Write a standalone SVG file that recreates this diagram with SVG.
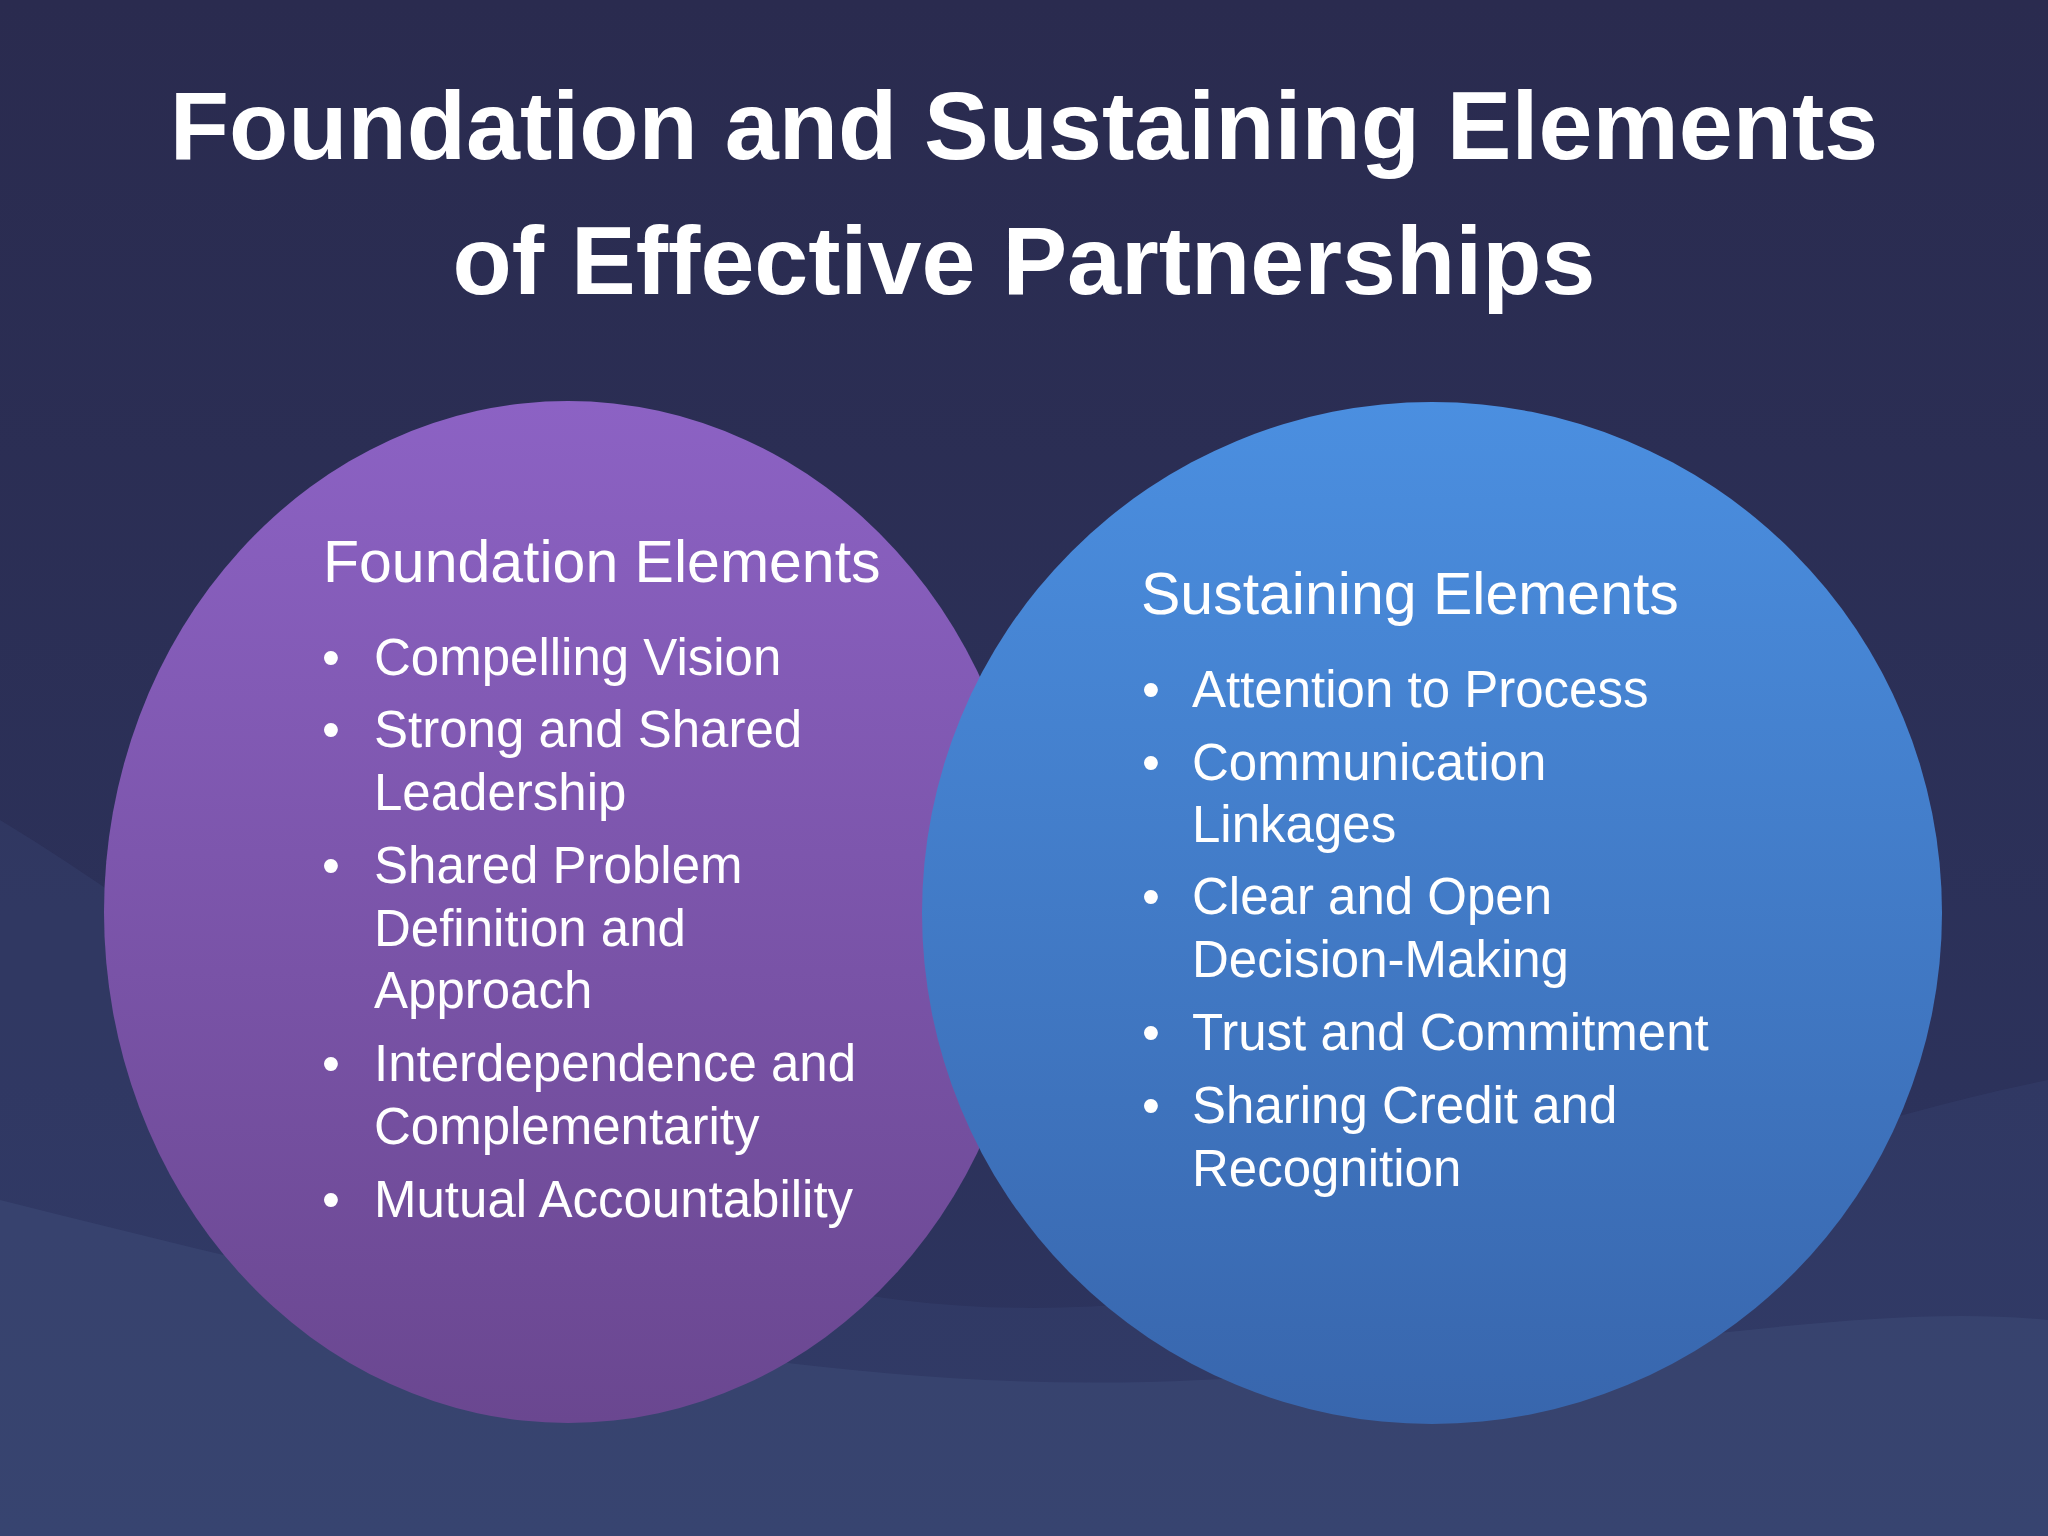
<svg xmlns="http://www.w3.org/2000/svg" width="2048" height="1536" viewBox="0 0 2048 1536">
<defs>
<linearGradient id="bg" x1="0" y1="0" x2="0" y2="1"><stop offset="0" stop-color="#2a2b4f"/><stop offset="1" stop-color="#2d3560"/></linearGradient>
<linearGradient id="pu" x1="0" y1="0" x2="0" y2="1"><stop offset="0" stop-color="#8c62c4"/><stop offset="1" stop-color="#6a4790"/></linearGradient>
<linearGradient id="bl" x1="0" y1="0" x2="0" y2="1"><stop offset="0" stop-color="#4b8fe0"/><stop offset="1" stop-color="#3866ad"/></linearGradient>
<style>
.t{font-family:"Liberation Sans",Arial,sans-serif;fill:#fff}
.h{font-size:59px}
.b{font-size:51px}
.ti{font-size:97px;font-weight:bold}
</style>
</defs>
<rect width="2048" height="1536" fill="url(#bg)"/>
<path d="M0 820 C300 1000 500 1250 900 1300 C1300 1350 1700 1150 2048 1080 L2048 1536 L0 1536Z" fill="#3a4a78" opacity="0.3"/>
<path d="M0 1200 C400 1300 800 1400 1200 1380 C1600 1360 1850 1300 2048 1320 L2048 1536 L0 1536Z" fill="#4a5e8c" opacity="0.25"/>
<text class="t ti" x="1024" y="159" text-anchor="middle">Foundation and Sustaining Elements</text>
<text class="t ti" x="1024" y="294" text-anchor="middle">of Effective Partnerships</text>
<g id="foundation">
<ellipse cx="568" cy="912" rx="464" ry="511" fill="url(#pu)"/>
<text class="t h" x="323" y="582">Foundation Elements</text>
<g class="t b">
<text x="322" y="675">•</text><text x="374" y="675">Compelling Vision</text>
<text x="322" y="747">•</text><text x="374" y="747">Strong and Shared</text>
<text x="374" y="810">Leadership</text>
<text x="322" y="883">•</text><text x="374" y="883">Shared Problem</text>
<text x="374" y="946">Definition and</text>
<text x="374" y="1008">Approach</text>
<text x="322" y="1081">•</text><text x="374" y="1081">Interdependence and</text>
<text x="374" y="1144">Complementarity</text>
<text x="322" y="1217">•</text><text x="374" y="1217">Mutual Accountability</text>
</g>
</g>
<g id="sustaining">
<ellipse cx="1432" cy="913" rx="510" ry="511" fill="url(#bl)"/>
<text class="t h" x="1141" y="614">Sustaining Elements</text>
<g class="t b">
<text x="1142" y="707">•</text><text x="1192" y="707">Attention to Process</text>
<text x="1142" y="780">•</text><text x="1192" y="780">Communication</text>
<text x="1192" y="842">Linkages</text>
<text x="1142" y="914">•</text><text x="1192" y="914">Clear and Open</text>
<text x="1192" y="977">Decision-Making</text>
<text x="1142" y="1050">•</text><text x="1192" y="1050">Trust and Commitment</text>
<text x="1142" y="1123">•</text><text x="1192" y="1123">Sharing Credit and</text>
<text x="1192" y="1186">Recognition</text>
</g>
</g>
<g id="connectors"/>
</svg>
